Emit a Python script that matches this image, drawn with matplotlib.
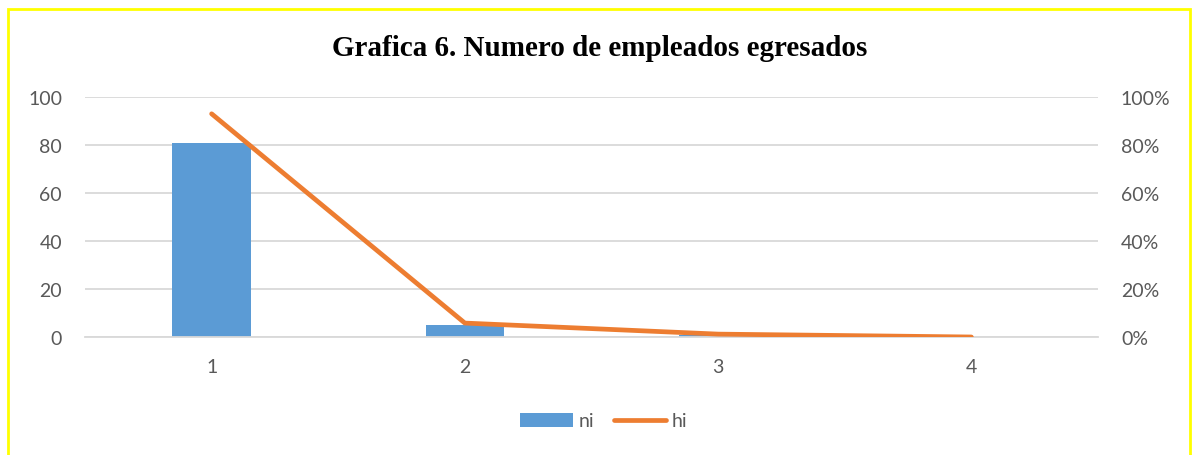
import matplotlib
matplotlib.use("Agg")
import matplotlib.pyplot as plt
from matplotlib.patches import Rectangle
from matplotlib.ticker import PercentFormatter

categories = ["1", "2", "3", "4"]
ni = [81, 5, 1, 0]
hi = [0.93, 0.058, 0.012, 0.0]
left_ticks = [0, 20, 40, 60, 80, 100]
right_ticks = [0, 0.2, 0.4, 0.6, 0.8, 1.0]

plt.rcParams['font.family'] = ['Lato', 'DejaVu Sans']

fig = plt.figure(figsize=(11.94, 4.56), dpi=100)
ax = fig.add_axes([85/1194, 1-338/456, (1098-85)/1194, (338-98)/456])
ax2 = ax.twinx()

x = list(range(len(categories)))
ax.bar(x, ni, width=0.31, color="#5B9BD5", label="ni", zorder=2)
ax2.plot(x, hi, color="#ED7D31", lw=3.4, solid_capstyle="round", label="hi", zorder=3)

ax.set_xlim(-0.5, 3.5)
ax.set_ylim(0, 100)
ax2.set_ylim(0, 1.0)
ax.set_yticks(left_ticks)
ax2.set_yticks(right_ticks)
ax2.yaxis.set_major_formatter(PercentFormatter(1.0, decimals=0))
ax.set_xticks(x)
ax.set_xticklabels(categories)

ax.grid(axis="y", color="#D9D9D9", lw=1.3, zorder=0)
ax.set_axisbelow(True)
for a in (ax, ax2):
    for s in a.spines.values():
        s.set_visible(False)
    a.tick_params(length=0, labelsize=14, labelcolor="#595959", pad=16.5)
ax.tick_params(axis="x", pad=15)
ax.spines["bottom"].set_visible(True)
ax.spines["bottom"].set_color("#D9D9D9")
ax.spines["bottom"].set_linewidth(1.3)

ax.set_zorder(ax2.get_zorder() - 1)
ax.patch.set_visible(False)

fig.text(600/1194, 1-48/456, "Grafica 6. Numero de empleados egresados", ha="center", va="center",
         fontsize=21, fontweight="bold", family="Liberation Serif")

h1, l1 = ax.get_legend_handles_labels()
h2, l2 = ax2.get_legend_handles_labels()
fig.legend(h1 + h2, l1 + l2, loc="center", bbox_to_anchor=(604/1194, 1-422/456), ncol=2,
           frameon=False, fontsize=14, labelcolor="#595959", handlelength=2.7,
           handletextpad=0.3, columnspacing=1.0)

fig.patches.append(Rectangle((8/1194, -0.05), (1190-8)/1194, 1.05 - 10/456, transform=fig.transFigure,
                             fill=False, edgecolor="#FFFF00", lw=2.0))

fig.savefig("out.png", dpi=100)
